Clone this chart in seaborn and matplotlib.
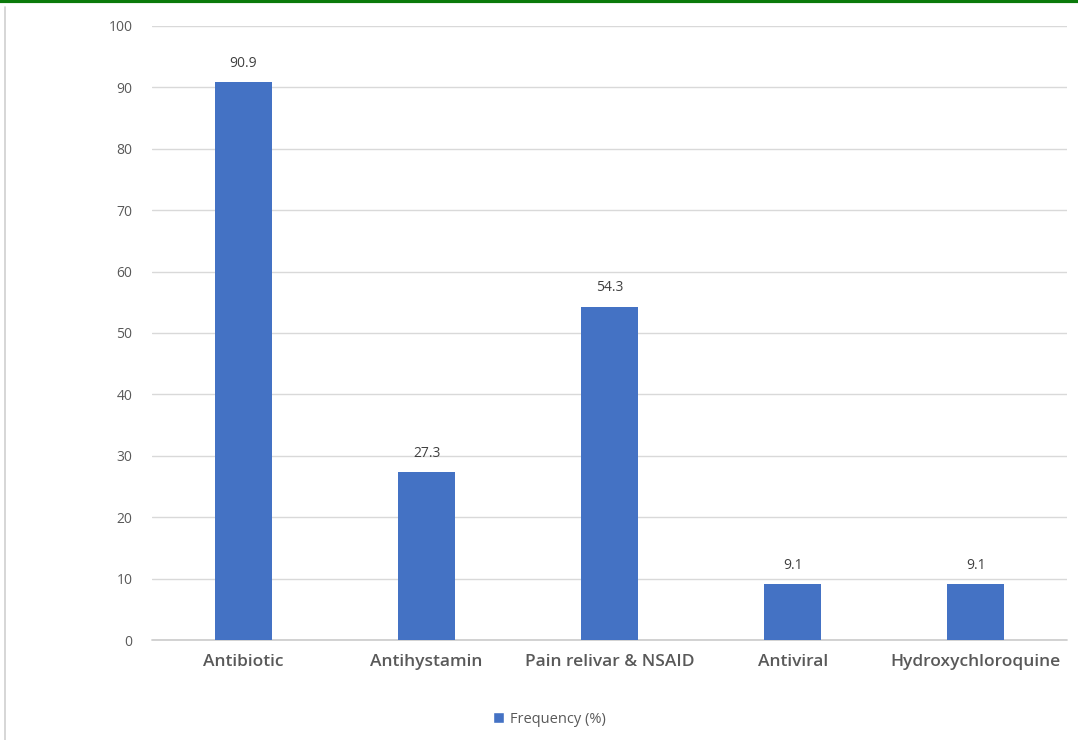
import matplotlib
matplotlib.use("Agg")
import matplotlib.pyplot as plt
from matplotlib.lines import Line2D
from matplotlib.patches import Patch
import seaborn as sns
import pandas as pd

categories = ["Antibiotic", "Antihystamin", "Pain relivar & NSAID", "Antiviral", "Hydroxychloroquine"]
frequency = [90.9, 27.3, 54.3, 9.1, 9.1]
y_ticks = [0, 10, 20, 30, 40, 50, 60, 70, 80, 90, 100]
series_name = "Frequency (%)"

df = pd.DataFrame({"category": categories, "value": frequency})

sns.set_theme(style="white")
plt.rcParams["font.family"] = ["Open Sans", "DejaVu Sans"]

bar_color = "#4472C4"
text_color = "#595959"

fig = plt.figure(figsize=(10.78, 7.40), dpi=100)
ax = fig.add_axes([0.141, 0.135, 0.849, 0.83])

sns.barplot(data=df, x="category", y="value", color=bar_color, width=0.31,
            saturation=1, linewidth=0, ax=ax, zorder=3)

ax.set_ylim(0, 100)
ax.set_xlim(-0.5, len(categories) - 0.5)
ax.set_yticks(y_ticks)
ax.yaxis.grid(True, color="#d9d9d9", linewidth=1)
ax.set_axisbelow(True)
for s in ax.spines.values():
    s.set_visible(False)
ax.axhline(0, color="#cfcfcf", linewidth=1.3, zorder=2, clip_on=False)
ax.set_xlabel("")
ax.set_ylabel("")
ax.tick_params(axis="y", length=0, pad=14, labelsize=10, labelcolor=text_color)
ax.tick_params(axis="x", length=0, pad=10, labelsize=12.5, labelcolor=text_color)
for lbl in ax.get_xticklabels():
    lbl.set_fontweight("semibold")

for i, v in enumerate(frequency):
    ax.annotate(f"{v}", (i, v), xytext=(0, 8), textcoords="offset points",
                ha="center", va="bottom", fontsize=10, color="#404040")

handles = [Patch(facecolor=bar_color, label=series_name)]
fig.legend(handles=handles, loc="center", bbox_to_anchor=(0.51, 0.028),
           frameon=False, fontsize=10.5, handlelength=0.75, handleheight=0.75,
           handletextpad=0.4, labelcolor=text_color)

# frame decorations
fig.add_artist(Line2D([0, 1], [0.998, 0.998], color="#0b7a0b", linewidth=3,
                      transform=fig.transFigure))
fig.add_artist(Line2D([0.005, 0.005], [0, 0.99], color="#d0d0d0", linewidth=1.2,
                      transform=fig.transFigure))

fig.savefig("out.png", dpi=100, facecolor="white")
